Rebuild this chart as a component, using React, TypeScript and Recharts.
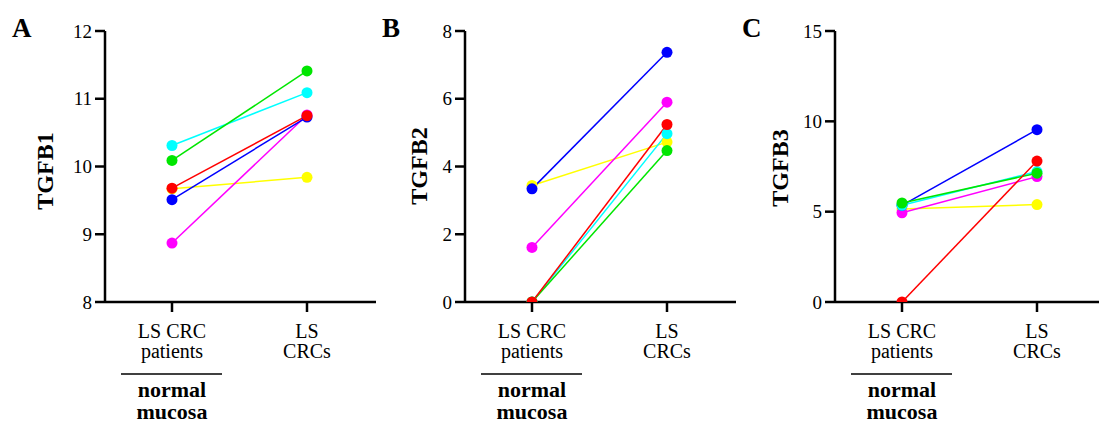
import React from 'react';
import { LineChart, Line, XAxis, YAxis } from 'recharts';

// Categories (x axis)
const categories = ['normal', 'crc'];
const tickLinesLeft = ['LS CRC', 'patients'];
const tickLinesRight = ['LS', 'CRCs'];
const groupLines = ['normal', 'mucosa'];

// Patients (series), in drawing order, with their colours
const patients = ['yellow', 'magenta', 'blue', 'cyan', 'green', 'red'];
const colors = ['#ffff00', '#ff00ff', '#0000ff', '#00ffff', '#00e600', '#ff0000'];

// Values per gene: normal mucosa, CRC
const tgfb1Normal = [9.67, 8.87, 9.51, 10.31, 10.09, 9.68];
const tgfb1Crc = [9.84, 10.76, 10.73, 11.09, 11.41, 10.75];
const tgfb2Normal = [3.44, 1.61, 3.34, 0, 0, 0];
const tgfb2Crc = [4.72, 5.9, 7.37, 4.97, 4.47, 5.24];
const tgfb3Normal = [5.15, 4.94, 5.35, 5.35, 5.48, 0];
const tgfb3Crc = [5.39, 6.94, 9.54, 7.22, 7.13, 7.8];

const tgfb1Ticks = [8, 9, 10, 11, 12];
const tgfb2Ticks = [0, 2, 4, 6, 8];
const tgfb3Ticks = [0, 5, 10, 15];

const SERIF = 'Liberation Serif';

function buildRows(normal: number[], crc: number[]) {
  const r0: any = { cat: categories[0] };
  const r1: any = { cat: categories[1] };
  patients.forEach((p, i) => {
    r0[p] = normal[i];
    r1[p] = crc[i];
  });
  return [r0, r1];
}

const XTick = (props: any) => {
  const { x, y, payload } = props;
  const first = payload.value === categories[0];
  const lines = first ? tickLinesLeft : tickLinesRight;
  return (
    <g>
      {lines.map((t, i) => (
        <text key={i} x={x} y={y + 24 + i * 20} textAnchor="middle" style={{ fontFamily: SERIF, fontSize: 20 }} fill="#000">
          {t}
        </text>
      ))}
      {first && (
        <g>
          <line x1={x - 51} x2={x + 50} y1={y + 60} y2={y + 60} stroke="#000" strokeWidth={1.5} />
          {groupLines.map((t, i) => (
            <text key={t} x={x} y={y + 83 + i * 22} textAnchor="middle" style={{ fontFamily: SERIF, fontSize: 22, fontWeight: 'bold' }} fill="#000">
              {t}
            </text>
          ))}
        </g>
      )}
    </g>
  );
};

type PanelProps = {
  left: number;
  letter: string;
  letterX: number;
  label: string;
  labelOffset: number;
  labelY: number;
  normal: number[];
  crc: number[];
  ticks: number[];
};

const Panel = ({ left, letter, letterX, label, labelOffset, labelY, normal, crc, ticks }: PanelProps) => {
  const data = buildRows(normal, crc);
  const dom: [number, number] = [ticks[0], ticks[ticks.length - 1]];
  const lx = 105 - labelOffset;
  return (
    <div style={{ position: 'absolute', left, top: 0 }}>
      <LineChart width={376} height={425} data={data} margin={{ top: 31, right: 0, bottom: 0, left: 0 }}>
        <XAxis
          dataKey="cat"
          height={123}
          tick={<XTick />}
          tickSize={10}
          padding={{ left: 67, right: 69 }}
          axisLine={{ stroke: '#000', strokeWidth: 2.5 }}
          tickLine={{ stroke: '#000', strokeWidth: 2.5 }}
          interval={0}
        />
        <YAxis
          width={105}
          domain={dom}
          ticks={ticks}
          type="number"
          allowDataOverflow
          tickSize={10}
          tickMargin={3}
          axisLine={{ stroke: '#000', strokeWidth: 2.5 }}
          tickLine={{ stroke: '#000', strokeWidth: 2.5 }}
          tick={{ style: { fontFamily: SERIF, fontSize: 19 }, fill: '#000' }}
          label={{
            content: () => (
              <g>
                <text
                  x={lx}
                  y={labelY}
                  transform={`rotate(-90, ${lx}, ${labelY})`}
                  textAnchor="middle"
                  dominantBaseline="central"
                  style={{ fontFamily: SERIF, fontSize: 24, fontWeight: 'bold' }}
                  fill="#000"
                >
                  {label}
                </text>
                <text x={letterX} y={37} style={{ fontFamily: SERIF, fontSize: 27, fontWeight: 'bold' }} fill="#000">
                  {letter}
                </text>
              </g>
            ),
          }}
        />
        {patients.map((p, i) => (
          <Line
            key={p}
            dataKey={p}
            stroke={colors[i]}
            strokeWidth={1.5}
            dot={{ r: 5.5, fill: colors[i], stroke: colors[i], strokeWidth: 0 }}
            isAnimationActive={false}
          />
        ))}
      </LineChart>
    </div>
  );
};

export default function App() {
  return (
    <div style={{ position: 'absolute', left: 0, top: 0, width: 1099, height: 425, overflow: 'hidden', background: '#fff' }}>
      <Panel left={0} letter="A" letterX={12} label="TGFB1" labelOffset={60} labelY={171} normal={tgfb1Normal} crc={tgfb1Crc} ticks={tgfb1Ticks} />
      <Panel left={360} letter="B" letterX={22} label="TGFB2" labelOffset={46} labelY={166} normal={tgfb2Normal} crc={tgfb2Crc} ticks={tgfb2Ticks} />
      <Panel left={730} letter="C" letterX={12} label="TGFB3" labelOffset={55} labelY={168} normal={tgfb3Normal} crc={tgfb3Crc} ticks={tgfb3Ticks} />
    </div>
  );
}
